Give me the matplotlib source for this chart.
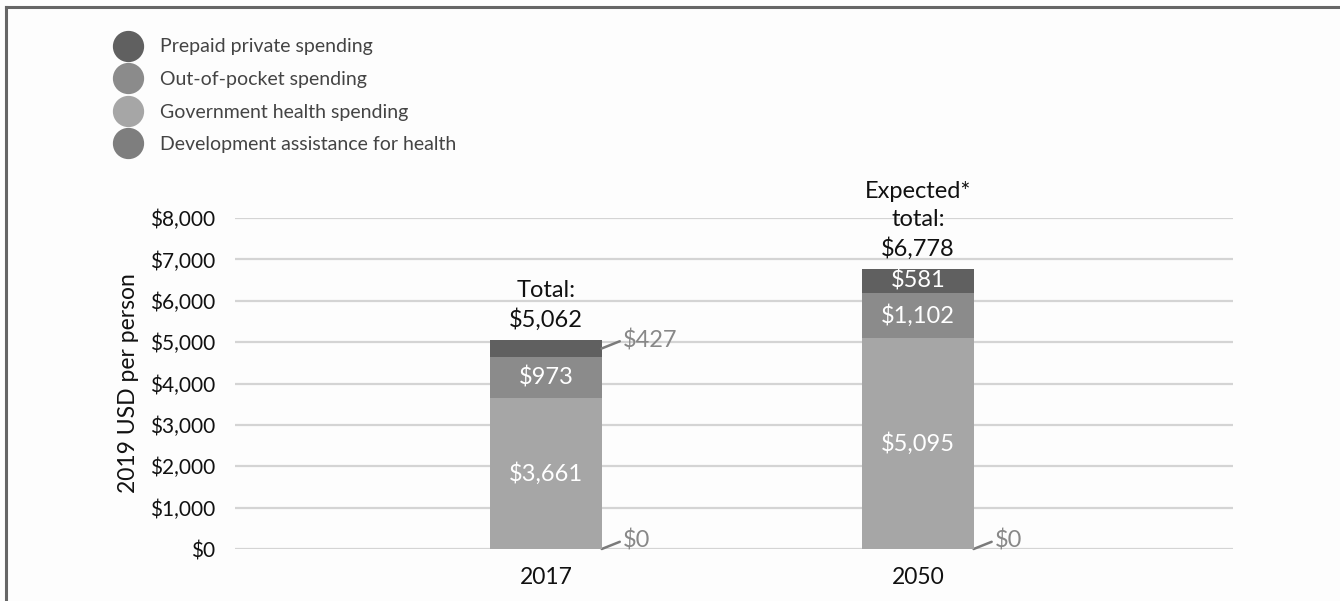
import numpy as np
import matplotlib.pyplot as plt
from matplotlib.lines import Line2D

# data
years = ['2017', '2050']
dev_assist = [0, 0]
government = [3661, 5095]
out_of_pocket = [973, 1102]
prepaid = [427, 581]
totals = [5062, 6778]
total_titles = ['Total:', 'Expected*\ntotal:']

series_names = ['Prepaid private spending', 'Out-of-pocket spending',
                'Government health spending', 'Development assistance for health']
colors = {'prepaid': '#606060', 'oop': '#8b8b8b', 'gov': '#a6a6a6', 'dev': '#7e7e7e'}

plt.rcParams['font.family'] = ['Lato', 'DejaVu Sans']

fig = plt.figure(figsize=(13.4, 6.01), dpi=100)
fig.patch.set_facecolor('#fdfdfd')
ax = fig.add_axes([0.1754, 0.0865, 0.7446, 0.5507])
ax.set_facecolor('#fdfdfd')

x = np.arange(len(years))
w = 0.30
bottom = np.zeros(len(years))
stack = [('dev', dev_assist), ('gov', government), ('oop', out_of_pocket), ('prepaid', prepaid)]
leader = dict(arrowstyle='-', color='#7a7a7a', lw=1.8, shrinkA=0, shrinkB=0, relpos=(0, 0.5))
for key, vals in stack:
    ax.bar(x, vals, w, bottom=bottom, color=colors[key], zorder=3, clip_on=False)
    for i, v in enumerate(vals):
        mid = bottom[i] + v / 2
        if key in ('gov', 'oop') or (key == 'prepaid' and i == 1):
            ax.text(x[i], mid, f'${v:,}', color='white', ha='center', va='center',
                    fontsize=17, zorder=4)
        elif key == 'prepaid':
            ax.annotate(f'${v:,}', xy=(x[i] + w / 2, mid), xytext=(15, 6),
                        textcoords='offset points', ha='left', va='center',
                        fontsize=17, color='#888888', arrowprops=leader)
        elif key == 'dev':
            ax.annotate(f'${v:,}', xy=(x[i] + w / 2, bottom[i] + v), xytext=(15, 6),
                        textcoords='offset points', ha='left', va='center',
                        fontsize=17, color='#888888', arrowprops=leader)
    bottom += np.array(vals)

for i, t in enumerate(totals):
    ax.annotate(f'{total_titles[i]}\n${t:,}', xy=(x[i], bottom[i]), xytext=(0, 6),
                textcoords='offset points', ha='center', va='bottom',
                fontsize=17, color='#111111', linespacing=1.42)

ax.set_xlim(-0.836, 1.847)
ax.set_ylim(0, 8000)
ax.set_yticks(np.arange(0, 8001, 1000))
ax.set_yticklabels([f'${v:,}' for v in range(0, 8001, 1000)], fontsize=15, color='#111111')
ax.set_xticks(x)
ax.set_xticklabels(years, fontsize=16.5, color='#111111')
ax.tick_params(axis='y', length=0, pad=14)
ax.tick_params(axis='x', length=0, pad=13)
ax.grid(axis='y', color='#d4d4d4', lw=1.6, zorder=0)
for s in ax.spines.values():
    s.set_visible(False)
ax.set_ylabel('2019 USD per person', fontsize=16.5, color='#111111', labelpad=8)

# legend with round markers
handles = [Line2D([], [], marker='o', ls='', markersize=21.5, color=colors[k])
           for k in ('prepaid', 'oop', 'gov', 'dev')]
fig.legend(handles, series_names, loc='upper left', bbox_to_anchor=(0.081, 0.949),
           frameon=False, fontsize=14, labelcolor='#444444', handletextpad=1.05,
           labelspacing=0.8, handlelength=1.2, borderaxespad=0)

# frame lines top and left
fig.add_artist(Line2D([0.0045, 1], [0.989, 0.989], color='#666666', lw=2.2))
fig.add_artist(Line2D([0.0045, 0.0045], [0, 0.989], color='#666666', lw=2.2))

fig.savefig('out.png', dpi=100, facecolor=fig.get_facecolor())
